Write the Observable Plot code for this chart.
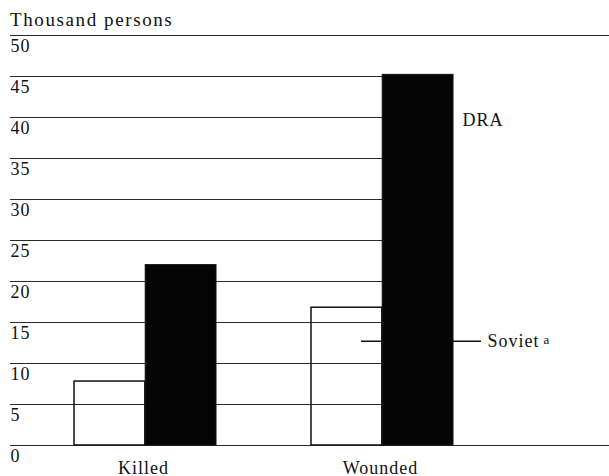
<!DOCTYPE html>
<html>
<head>
<meta charset="utf-8">
<script src="https://cdn.jsdelivr.net/npm/d3@7"></script>
<script src="https://cdn.jsdelivr.net/npm/@observablehq/plot@0.6"></script>
<style>
  body { margin: 0; background: #fff; }
  #wrap { width: 609px; }
  #title {
    height: 27px; box-sizing: border-box; padding: 9px 0 0 10px;
    font-family: "Liberation Serif", serif; font-size: 19px; line-height: 21px;
    letter-spacing: 1.6px; color: #111; white-space: nowrap;
  }
</style>
</head>
<body>
<div id="wrap">
  <div id="title">Thousand persons</div>
  <div id="chart"></div>
</div>
<script>
// Data
const categories = ["Killed", "Wounded"];
const sovietValues = [7.8, 16.8];
const draValues = [22, 45.2];
const yTicks = [0, 5, 10, 15, 20, 25, 30, 35, 40, 45, 50];
const seriesLabels = ["Soviet", "DRA"];
const footnoteMark = "a";
// annotation anchors (in data units)
const sovietLabelY = 12.7;
const draLabelY = 39.7;

const soviet = categories.map((c, i) => ({category: c, value: sovietValues[i]}));
const dra = categories.map((c, i) => ({category: c, value: draValues[i]}));
const yMin = d3.min(yTicks), yMax = d3.max(yTicks);
const outerTicks = yTicks.filter(t => t === yMin || t === yMax);
const innerTicks = yTicks.filter(t => t !== yMin && t !== yMax);
const firstCat = categories[0];
const lastCat = categories[categories.length - 1];

const W = 609, H = 449, ML = 10;
const xOpts = {domain: categories, paddingInner: 0.4, paddingOuter: 0.462, align: 0.292};
const band = d3.scaleBand().domain(categories).range([ML, W])
  .paddingInner(xOpts.paddingInner).paddingOuter(xOpts.paddingOuter).align(xOpts.align);
const half = band.bandwidth() / 2;
const leftReach = band(firstCat) - ML; // extend inner gridlines back to the left edge

const font = "Liberation Serif";
const chart = Plot.plot({
  width: W,
  height: H,
  marginTop: 8,
  marginBottom: 31,
  marginLeft: ML,
  marginRight: 0,
  style: {fontFamily: font, fontSize: "18px", letterSpacing: "1px", color: "#111", background: "#fff"},
  x: {...xOpts, axis: null},
  y: {domain: [yMin, yMax], axis: null},
  marks: [
    // top and bottom rules span the whole width
    Plot.ruleY(outerTicks, {stroke: "#2a2a2a", strokeWidth: 1}),
    // inner gridlines stop at the right edge of the last group
    Plot.ruleY(innerTicks, {x1: () => firstCat, x2: () => lastCat, insetLeft: -leftReach,
      stroke: "#2a2a2a", strokeWidth: 1}),
    Plot.text(yTicks, {y: d => d, text: d => String(d), frameAnchor: "left", textAnchor: "start",
      lineAnchor: "top", dy: 4, fontSize: 18, fill: "#111"}),
    // Soviet leader line (passes behind DRA bar)
    Plot.ruleY([sovietLabelY], {x1: () => lastCat, x2: () => lastCat, insetLeft: 50, insetRight: -28,
      stroke: "#111", strokeWidth: 1.5}),
    Plot.barY(soviet, {x: "category", y: "value", insetRight: half, fill: "none", stroke: "#111", strokeWidth: 1.5}),
    Plot.barY(dra, {x: "category", y: "value", insetLeft: half, fill: "#050505", stroke: "#111", strokeWidth: 1}),
    Plot.text(categories, {x: d => d, text: d => d, frameAnchor: "bottom", lineAnchor: "bottom",
      dy: 28, dx: -2, fontSize: 18, fill: "#111"}),
    Plot.text([seriesLabels[1]], {x: () => lastCat, y: () => draLabelY, text: d => d,
      textAnchor: "start", lineAnchor: "middle", dx: 80, fontSize: 18, fill: "#111"}),
    Plot.text([seriesLabels[0]], {x: () => lastCat, y: () => sovietLabelY, text: d => d,
      textAnchor: "start", lineAnchor: "middle", dx: 105, fontSize: 18, fill: "#111"}),
    Plot.text([footnoteMark], {x: () => lastCat, y: () => sovietLabelY, text: d => d,
      textAnchor: "start", lineAnchor: "middle", dx: 161, dy: -2, fontSize: 13, fill: "#111"})
  ]
});
document.getElementById("chart").appendChild(chart);
</script>
</body>
</html>
